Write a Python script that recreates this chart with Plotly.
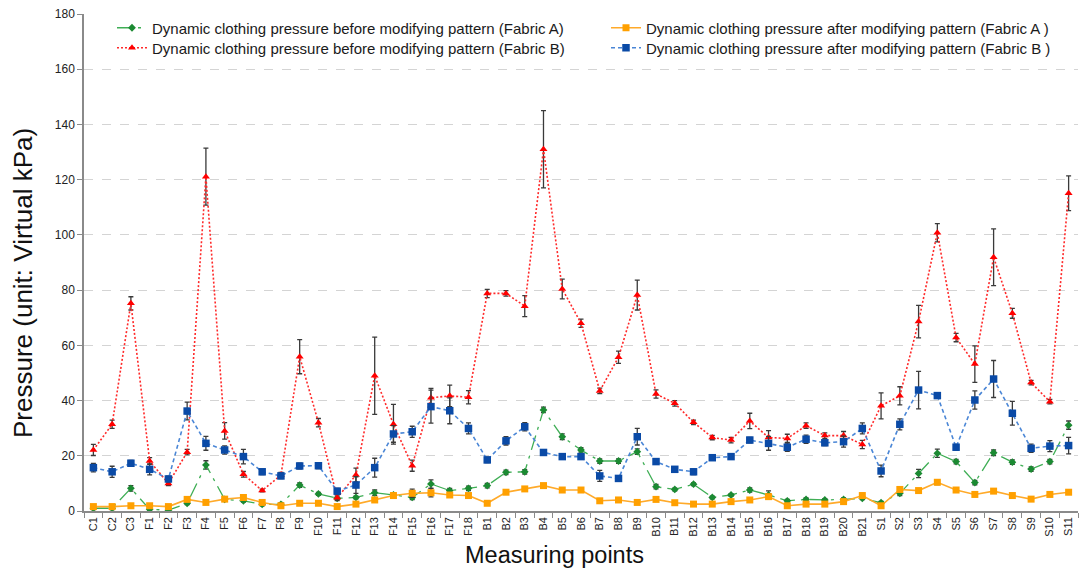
import plotly.graph_objects as go

categories = (["C1", "C2", "C3"] + [f"F{i}" for i in range(1, 19)]
              + [f"B{i}" for i in range(1, 22)] + [f"S{i}" for i in range(1, 12)])

fabric_a_before = [1.0, 1.0, 8.2, 0.6, 0.3, 2.8, 16.7, 4.2, 3.7, 2.4, 2.4, 9.4, 6.2, 4.6, 4.9, 6.6, 5.8, 4.9, 9.8, 7.4, 8.2,
                   9.2, 14.0, 14.2, 36.6, 26.9, 22.1, 18.1, 18.1, 21.5, 8.8, 7.8, 9.7, 4.9, 5.8, 7.6, 5.8, 3.7, 4.2, 4.0, 4.2, 4.6,
                   3.0, 6.4, 13.6, 20.9, 17.9, 10.3, 21.1, 17.7, 15.2, 17.9, 31.1]
fabric_a_before_err = [0.5, 0.5, 1.0, 0.5, 0.5, 0.5, 1.5, 0.5, 0.5, 0.5, 0.5, 0.8, 0.5, 0.5, 0.5, 1.0, 0.5, 0.8, 1.5, 0.8, 0.8,
                       0.8, 0.8, 0.8, 1.0, 1.0, 0.8, 0.8, 0.8, 1.0, 0.8, 0.5, 0.5, 0.5, 0.5, 0.8, 1.5, 0.5, 0.5, 0.5, 0.5, 0.5,
                       0.5, 0.8, 1.5, 1.5, 0.8, 0.8, 1.0, 0.8, 0.8, 0.8, 1.5]

fabric_a_after = [1.6, 1.6, 1.9, 1.9, 1.6, 4.2, 3.1, 4.3, 4.9, 3.1, 1.9, 2.8, 2.8, 1.6, 2.5, 4.0, 5.6, 6.4, 6.6, 5.8, 5.6,
                  2.8, 6.8, 8.0, 9.2, 7.6, 7.6, 3.7, 4.0, 3.1, 4.2, 3.0, 2.5, 2.5, 3.4, 4.0, 5.2, 1.9, 2.5, 2.5, 3.4, 5.6,
                  1.9, 7.8, 7.4, 10.4, 7.6, 6.0, 7.2, 5.6, 4.3, 6.0, 6.8]
fabric_a_after_err = [0.5, 0.5, 0.5, 0.5, 0.5, 0.5, 0.5, 0.5, 0.8, 0.5, 0.5, 0.5, 0.5, 0.5, 0.5, 0.5, 0.8, 1.5, 1.5, 0.8, 0.5,
                      0.5, 0.5, 0.5, 0.5, 0.5, 0.5, 0.5, 0.5, 0.5, 0.5, 0.5, 0.5, 0.5, 0.5, 0.5, 1.0, 0.5, 0.5, 0.5, 0.5, 0.8,
                      0.5, 0.8, 0.5, 0.8, 0.5, 0.8, 0.5, 0.5, 0.5, 0.5, 0.5]

fabric_b_before = [22.1, 31.4, 75.2, 18.1, 10.0, 21.3, 121.1, 29.0, 13.3, 7.4, 13.0, 55.9, 32.0, 4.8, 13.0, 49.0, 31.4, 16.4, 41.0, 41.7, 41.2,
                   78.8, 78.8, 74.2, 131.0, 80.4, 68.0, 43.5, 55.7, 78.2, 42.4, 39.0, 32.1, 26.6, 25.7, 32.6, 26.6, 26.3, 30.9, 27.3, 27.3, 24.1,
                   38.1, 41.7, 68.6, 100.8, 62.8, 53.2, 91.9, 71.6, 46.5, 39.6, 115.1]
fabric_b_before_err = [2.0, 1.5, 2.4, 1.2, 0.8, 1.0, 10.3, 3.0, 1.0, 0.5, 1.0, 6.2, 1.5, 1.0, 2.5, 14.0, 7.2, 2.0, 3.4, 3.9, 2.4,
                       1.5, 1.0, 3.8, 14.0, 3.6, 1.5, 1.0, 2.2, 5.4, 1.5, 1.0, 0.8, 0.8, 1.0, 2.8, 2.5, 1.5, 1.0, 1.0, 1.5, 1.5,
                       4.7, 3.3, 5.9, 3.3, 1.5, 6.6, 10.3, 1.8, 0.8, 0.8, 6.3]

fabric_b_after = [15.7, 14.2, 17.3, 15.1, 11.6, 36.2, 24.5, 22.1, 19.7, 14.2, 12.7, 16.3, 16.4, 7.2, 9.4, 15.7, 27.9, 28.7, 37.8, 36.3, 29.9,
                  18.5, 25.4, 30.5, 21.2, 19.7, 19.7, 12.7, 11.8, 26.9, 17.9, 15.1, 14.2, 19.3, 19.7, 25.7, 24.5, 23.1, 26.0, 24.7, 25.1, 29.9,
                  14.5, 31.4, 43.8, 41.8, 23.1, 40.2, 47.8, 35.4, 22.7, 23.5, 23.7]
fabric_b_after_err = [1.5, 2.0, 1.0, 2.0, 1.0, 3.2, 2.5, 1.5, 2.6, 1.0, 1.0, 1.0, 1.0, 1.0, 3.0, 3.4, 3.0, 2.0, 6.0, 4.7, 2.0,
                      1.0, 1.5, 1.5, 1.0, 1.0, 1.0, 2.0, 1.0, 3.0, 1.0, 1.0, 1.0, 1.0, 1.0, 1.0, 2.5, 1.5, 1.5, 1.0, 2.0, 2.0,
                      2.1, 2.0, 6.8, 1.0, 1.0, 3.3, 6.7, 4.3, 1.5, 2.0, 3.0]

names = ["Dynamic clothing pressure before modifying pattern (Fabric A)",
         "Dynamic clothing pressure after modifying pattern (Fabric A )",
         "Dynamic clothing pressure before modifying pattern (Fabric B)",
         "Dynamic clothing pressure after modifying pattern (Fabric B )"]
x_title = "Measuring points"
y_title = "Pressure (unit: Virtual kPa)"

FONT = "Liberation Sans, Arial, sans-serif"
err_style = dict(type="data", color="#3a3a3a", thickness=1.3, width=2.5)

fig = go.Figure()

fig.add_trace(go.Scatter(
    x=categories, y=fabric_a_before, name=names[0], mode="lines+markers",
    line=dict(color="#3fae55", width=1.3, dash="longdashdot"),
    marker=dict(symbol="diamond", size=6, color="#1b8a32"),
    error_y=dict(array=fabric_a_before_err, **err_style), legend="legend"))

fig.add_trace(go.Scatter(
    x=categories, y=fabric_a_after, name=names[1], mode="lines+markers",
    line=dict(color="#ffaa2a", width=1.6),
    marker=dict(symbol="square", size=7, color="#ffa000"),
    error_y=dict(array=fabric_a_after_err, **err_style), legend="legend2"))

fig.add_trace(go.Scatter(
    x=categories, y=fabric_b_before, name=names[2], mode="lines+markers",
    line=dict(color="#ff2a2a", width=1.6, dash="2px,2px"),
    marker=dict(symbol="triangle-up", size=7, color="#ff0000"),
    error_y=dict(array=fabric_b_before_err, **err_style), legend="legend3"))

fig.add_trace(go.Scatter(
    x=categories, y=fabric_b_after, name=names[3], mode="lines+markers",
    line=dict(color="#4a86d6", width=1.6, dash="4px,3px"),
    marker=dict(symbol="square", size=7.5, color="#0a4aa6"),
    error_y=dict(array=fabric_b_after_err, **err_style), legend="legend4"))

legend_common = dict(orientation="h", xanchor="left", yanchor="middle",
                     bgcolor="rgba(0,0,0,0)", font=dict(family=FONT, size=15, color="#1a1a1a"),
                     itemwidth=30)

col1 = (112 - 84) / 994
col2 = (606 - 84) / 994
row1 = (511 - 28) / 497
row2 = (511 - 48) / 497

fig.update_layout(
    width=1080, height=568,
    margin=dict(l=84, r=2, t=14, b=57),
    paper_bgcolor="white", plot_bgcolor="white",
    font=dict(family=FONT, color="#222222"),
    showlegend=True,
    legend=dict(x=col1, y=row1, **legend_common),
    legend2=dict(x=col2, y=row1, **legend_common),
    legend3=dict(x=col1, y=row2, **legend_common),
    legend4=dict(x=col2, y=row2, **legend_common),
    xaxis=dict(
        type="category", range=[-0.5, len(categories) - 0.5],
        showgrid=False, showline=True, linecolor="#8a8a8a", linewidth=1.5,
        ticks="outside", tickson="boundaries", ticklen=5, tickcolor="#8a8a8a",
        tickangle=-90, tickfont=dict(family=FONT, size=11, color="#222222"),
        automargin=False),
    yaxis=dict(
        range=[0, 180], dtick=20,
        showgrid=True, gridcolor="#d4d4d4", griddash="dash", gridwidth=1,
        showline=True, linecolor="#8a8a8a", linewidth=1.5,
        ticks="outside", ticklen=5, tickcolor="#8a8a8a",
        tickfont=dict(family=FONT, size=12, color="#222222"),
        zeroline=False, automargin=False),
    annotations=[
        dict(text=x_title, xref="paper", yref="paper", x=(554 - 84) / 994, y=(511 - 555) / 497,
             xanchor="center", yanchor="middle", showarrow=False,
             font=dict(family=FONT, size=23.5, color="#111111")),
        dict(text=y_title, xref="paper", yref="paper", x=(23 - 84) / 994, y=(511 - 283) / 497,
             xanchor="center", yanchor="middle", showarrow=False, textangle=-90,
             font=dict(family=FONT, size=26, color="#111111")),
    ],
)

fig.write_html("out.html")
